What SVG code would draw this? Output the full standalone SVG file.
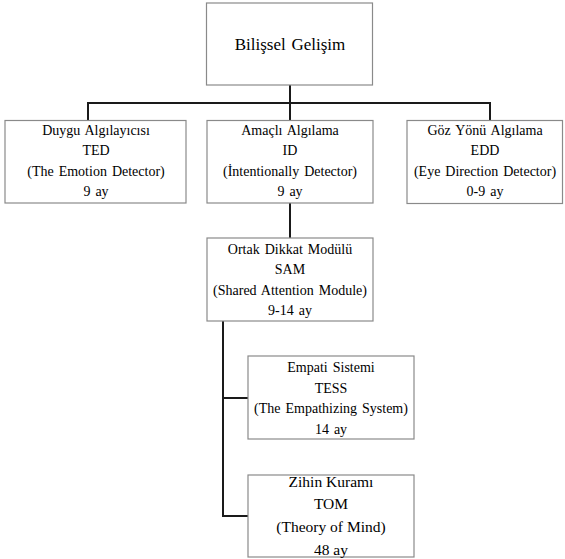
<svg xmlns="http://www.w3.org/2000/svg" width="565" height="559" viewBox="0 0 565 559">
<style>
.box{fill:#fff;stroke:#8a8a8a;stroke-width:1.2}
.t{font-family:'Liberation Serif','Times New Roman',Times,'DejaVu Serif',serif;font-size:14px;fill:#000;text-anchor:middle;word-spacing:1.5px}
.big{font-size:17px}
.mid{font-size:15.5px;word-spacing:0}
.c{fill:none;stroke:#1a1a1a;stroke-width:2}
</style>
<rect width="565" height="559" fill="#fff"/>
<g id="connectors">
<path class="c" d="M290 85V121M88 121V103H490V121"/>
<path class="c" d="M290 203V238"/>
<path class="c" d="M223 321V516H248M223 398H248"/>
</g>
<g id="root">
<rect class="box" x="206.5" y="3" width="166" height="82"/>
<text class="t big" x="290" y="50">Bilişsel Gelişim</text>
</g>
<g id="ted">
<rect class="box" x="5" y="120.5" width="181" height="82.5"/>
<text class="t" x="96" y="135">Duygu Algılayıcısı</text>
<text class="t" x="96" y="155">TED</text>
<text class="t" x="96" y="175.5">(The Emotion Detector)</text>
<text class="t" x="96" y="196">9 ay</text>
</g>
<g id="id">
<rect class="box" x="207" y="120.5" width="166" height="82.5"/>
<text class="t" x="290" y="135">Amaçlı Algılama</text>
<text class="t" x="290" y="155">ID</text>
<text class="t" x="290" y="175.5">(İntentionally Detector)</text>
<text class="t" x="290" y="196">9 ay</text>
</g>
<g id="edd">
<rect class="box" x="407" y="120.5" width="155.5" height="83"/>
<text class="t" x="485" y="135">Göz Yönü Algılama</text>
<text class="t" x="485" y="155">EDD</text>
<text class="t" x="485" y="175.5">(Eye Direction Detector)</text>
<text class="t" x="485" y="196">0-9 ay</text>
</g>
<g id="sam">
<rect class="box" x="207" y="238" width="166" height="83"/>
<text class="t" x="290" y="254">Ortak Dikkat Modülü</text>
<text class="t" x="290" y="274">SAM</text>
<text class="t" x="290" y="295">(Shared Attention Module)</text>
<text class="t" x="290" y="315">9-14 ay</text>
</g>
<g id="tess">
<rect class="box" x="248" y="356" width="166" height="83"/>
<text class="t" x="331" y="372">Empati Sistemi</text>
<text class="t" x="331" y="392.5">TESS</text>
<text class="t" x="331" y="413">(The Empathizing System)</text>
<text class="t" x="331" y="433.5">14 ay</text>
</g>
<g id="tom">
<rect class="box" x="248" y="475" width="166" height="82"/>
<text class="t mid" x="331" y="486.5">Zihin Kuramı</text>
<text class="t mid" x="331" y="509">TOM</text>
<text class="t mid" x="331" y="532">(Theory of Mind)</text>
<text class="t mid" x="331" y="554.5">48 ay</text>
</g>
</svg>
